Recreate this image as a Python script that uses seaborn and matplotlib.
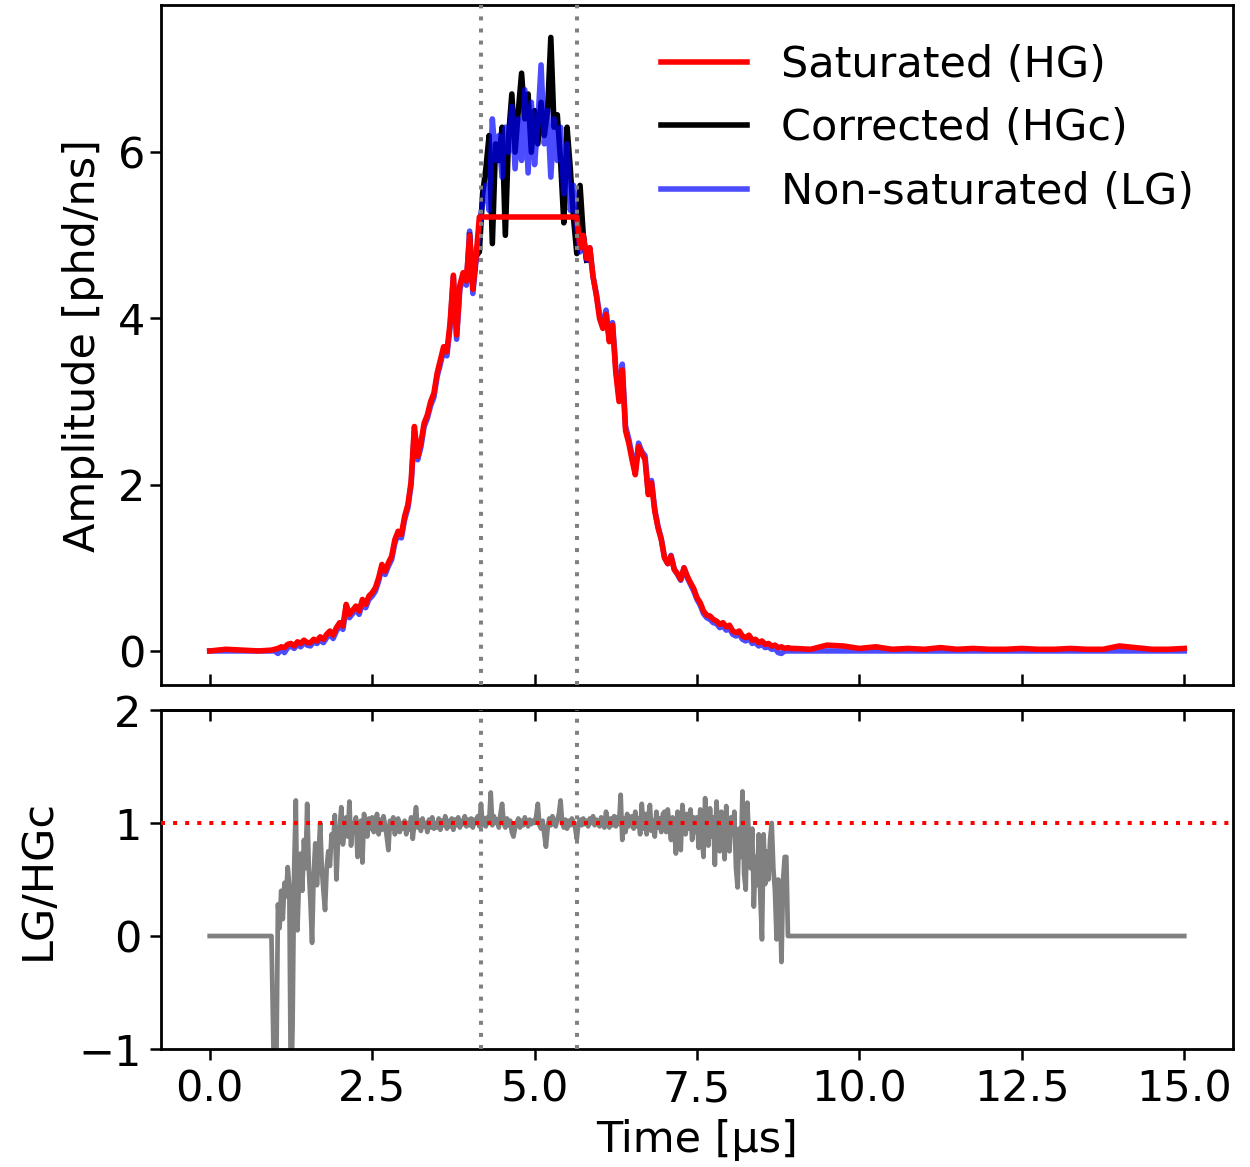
import numpy as np
import matplotlib
matplotlib.use("Agg")
import matplotlib.pyplot as plt
import seaborn as sns

# time axes [us]
time_lead = [0.0, 0.25, 0.5, 0.75, 0.95]
time_pulse = np.round(np.arange(1.0, 8.96, 0.05), 3)
time_tail = np.round(np.arange(9.0, 15.01, 0.25), 3)
time_win = np.round(np.arange(4.0, 5.81, 0.05), 3)
time_ratio = np.round(np.arange(1.0, 8.99, 0.025), 3)

# non-saturated low gain channel (LG)
lg_lead = [0.0, 0.0, 0.0, 0.0, 0.0]
lg_pulse = [
    0.00, -0.03, 0.02, -0.02, 0.04, 0.06, 0.03, 0.08, 0.05, 0.10,
    0.07, 0.06, 0.11, 0.09, 0.13, 0.10, 0.16, 0.20, 0.15, 0.24,
    0.30, 0.26, 0.52, 0.40, 0.45, 0.50, 0.44, 0.58, 0.52, 0.62,
    0.66, 0.72, 0.84, 1.00, 0.92, 1.02, 1.10, 1.30, 1.40, 1.36,
    1.58, 1.72, 2.00, 2.65, 2.30, 2.45, 2.70, 2.80, 2.95, 3.05,
    3.30, 3.45, 3.62, 3.55, 3.90, 4.50, 3.75, 4.35, 4.50, 4.40,
    5.05, 4.30, 4.70, 5.10, 5.40, 5.60, 5.30, 6.40, 5.90, 6.20,
    5.70, 6.30, 6.00, 6.55, 5.80, 6.40, 5.90, 6.75, 5.75, 6.60,
    5.85, 6.35, 7.05, 6.10, 6.50, 5.70, 6.40, 5.90, 6.30, 5.50,
    6.10, 5.30, 5.60, 5.10, 4.80, 5.00, 4.70, 4.85, 4.50, 4.30,
    4.05, 3.90, 4.10, 3.75, 3.95, 3.40, 3.05, 3.45, 2.70, 2.55,
    2.35, 2.15, 2.50, 2.40, 2.35, 1.90, 2.05, 1.70, 1.50, 1.35,
    1.12, 1.05, 1.15, 0.98, 0.92, 0.85, 1.00, 0.88, 0.80, 0.72,
    0.62, 0.55, 0.45, 0.40, 0.38, 0.34, 0.33, 0.28, 0.30, 0.25,
    0.27, 0.20, 0.18, 0.20, 0.14, 0.12, 0.15, 0.09, 0.10, 0.06,
    0.08, 0.04, 0.05, 0.02, 0.03, -0.02, -0.03, 0.00, 0.00, 0.00,
]
lg_tail = [0.0] * 25

# saturated high gain channel (HG)
hg_lead = [0.0, 0.02, 0.01, 0.0, 0.01]
hg_pulse = [
    0.02, 0.03, 0.05, 0.04, 0.08, 0.09, 0.06, 0.11, 0.09, 0.13,
    0.10, 0.10, 0.14, 0.12, 0.17, 0.14, 0.20, 0.24, 0.19, 0.28,
    0.34, 0.30, 0.56, 0.44, 0.49, 0.54, 0.48, 0.62, 0.56, 0.66,
    0.70, 0.76, 0.88, 1.04, 0.96, 1.06, 1.14, 1.34, 1.44, 1.40,
    1.62, 1.76, 2.04, 2.70, 2.34, 2.50, 2.74, 2.84, 3.00, 3.10,
    3.34, 3.50, 3.66, 3.60, 3.95, 4.52, 3.80, 4.40, 4.55, 4.45,
    5.00, 4.35, 4.75, 5.22, 5.22, 5.22, 5.22, 5.22, 5.22, 5.22,
    5.22, 5.22, 5.22, 5.22, 5.22, 5.22, 5.22, 5.22, 5.22, 5.22,
    5.22, 5.22, 5.22, 5.22, 5.22, 5.22, 5.22, 5.22, 5.22, 5.22,
    5.22, 5.22, 5.22, 5.22, 4.85, 5.00, 4.72, 4.85, 4.50, 4.28,
    4.00, 3.88, 4.05, 3.72, 3.92, 3.35, 3.00, 3.38, 2.65, 2.50,
    2.30, 2.12, 2.46, 2.38, 2.30, 1.88, 2.02, 1.68, 1.48, 1.34,
    1.12, 1.05, 1.14, 0.98, 0.93, 0.86, 1.00, 0.90, 0.82, 0.75,
    0.64, 0.58, 0.48, 0.43, 0.42, 0.38, 0.36, 0.32, 0.34, 0.29,
    0.31, 0.24, 0.22, 0.24, 0.18, 0.16, 0.19, 0.13, 0.14, 0.10,
    0.12, 0.08, 0.09, 0.06, 0.07, 0.04, 0.05, 0.03, 0.04, 0.03,
]
hg_tail = [0.03, 0.02, 0.07, 0.06, 0.03, 0.05, 0.02, 0.03, 0.02, 0.04,
           0.02, 0.03, 0.02, 0.02, 0.03, 0.02, 0.02, 0.03, 0.02, 0.02,
           0.06, 0.04, 0.02, 0.02, 0.03]

# corrected high gain (HGc) inside the saturated window
hgc_win = [
    5.00, 4.40, 4.75, 4.80, 5.50, 5.80, 6.20, 4.90, 6.10, 5.90,
    6.30, 5.00, 6.20, 6.70, 6.00, 6.50, 6.95, 6.40, 6.70, 6.00,
    6.50, 6.10, 6.60, 6.20, 6.50, 7.38, 6.30, 6.45, 5.90, 5.15,
    6.30, 5.80, 5.20, 4.78, 5.60, 5.00, 4.70,
]

# ratio LG / HGc
ratio_lead = [0.0] * 5
ratio_pulse = [
    -1.60, -1.20, 0.28, 0.07, 0.40, 0.15, 0.47, 0.35, 0.61, 0.45,
    -1.50, -0.80, 0.60, 1.20, 0.05, 0.50, 0.73, 0.40, 0.85, 0.60,
    1.17, 0.60, 0.30, -0.06, 0.55, 0.82, 0.45, 0.70, 1.00, 0.60,
    0.40, 0.23, 0.60, 0.75, 0.62, 0.90, 0.80, 1.07, 0.50, 0.85,
    0.95, 1.14, 0.81, 0.95, 1.05, 0.88, 1.19, 0.80, 1.00, 0.92,
    1.05, 0.70, 0.90, 1.02, 0.65, 1.08, 0.98, 0.88, 1.04, 0.95,
    1.05, 0.92, 1.00, 1.08, 0.90, 1.03, 0.94, 1.06, 0.98, 0.88,
    0.76, 1.02, 0.95, 1.05, 0.90, 0.98, 1.04, 0.92, 1.00, 0.95,
    1.02, 0.90, 1.00, 0.94, 1.05, 0.86, 1.00, 1.14, 0.96, 1.02,
    0.93, 1.04, 0.97, 1.00, 0.92, 1.03, 0.96, 1.05, 0.95, 1.00,
    0.96, 1.04, 0.94, 1.02, 0.98, 1.06, 0.95, 1.02, 0.97, 1.04,
    0.94, 1.03, 0.98, 1.05, 0.96, 1.02, 0.99, 1.06, 0.97, 1.03,
    0.98, 1.04, 0.96, 1.03, 1.00, 1.06, 0.97, 1.17, 0.98, 1.04,
    0.97, 1.05, 1.00, 1.27, 0.98, 1.06, 1.00, 1.03, 0.96, 1.08,
    1.17, 1.00, 0.96, 1.04, 0.98, 1.02, 0.92, 0.88, 0.96, 1.00,
    1.04, 0.96, 1.02, 0.98, 1.05, 1.00, 0.97, 1.03, 0.99, 1.02,
    1.00, 1.06, 1.17, 0.98, 0.95, 1.02, 0.90, 0.79, 0.95, 1.04,
    0.98, 1.06, 1.00, 0.97, 1.03, 1.08, 1.20, 1.00, 0.96, 1.03,
    0.95, 1.02, 0.98, 1.04, 1.00, 0.96, 0.86, 1.00, 1.03, 0.98,
    1.04, 0.99, 1.02, 0.97, 1.04, 1.00, 1.06, 0.98, 1.03, 1.01,
    0.97, 1.05, 1.00, 0.96, 1.10, 1.02, 0.96, 1.04, 0.98, 1.06,
    0.97, 1.05, 0.99, 1.25, 0.85, 1.04, 0.92, 1.08, 0.97, 1.02,
    1.06, 0.95, 1.10, 0.97, 1.04, 0.90, 1.17, 0.95, 1.08, 0.90,
    1.05, 1.16, 0.93, 1.02, 0.88, 1.10, 0.96, 1.04, 0.92, 1.08,
    1.10, 0.92, 1.12, 0.98, 0.85, 1.05, 0.96, 0.73, 1.10, 0.95,
    0.76, 1.16, 1.00, 0.90, 1.08, 0.95, 1.12, 0.85, 1.05, 0.92,
    1.05, 0.78, 1.12, 0.90, 0.70, 1.22, 0.95, 0.80, 1.13, 0.88,
    1.05, 0.63, 1.19, 0.90, 0.75, 1.10, 0.95, 0.68, 1.15, 0.85,
    0.75, 1.05, 0.90, 1.10, 0.60, 0.43, 0.95, 0.70, 1.28, 0.55,
    0.41, 1.18, 0.85, 0.60, 0.95, 0.26, 0.70, 0.45, 0.90, 0.35,
    -0.03, 0.90, 0.46, 0.75, 0.50, 0.85, 1.00, 0.60, 0.40, -0.03,
    0.50, 0.35, -0.23, 0.50, 0.70, 0.70, 0.00, 0.00, 0.00, 0.00,
]
ratio_tail = [0.0] * 25

sat_window = [4.18, 5.66]

assert len(lg_pulse) == len(time_pulse) == len(hg_pulse)
assert len(hgc_win) == len(time_win)
assert len(ratio_pulse) == len(time_ratio)

time = np.concatenate([time_lead, time_pulse, time_tail])
lg = np.concatenate([lg_lead, lg_pulse, lg_tail])
hg = np.concatenate([hg_lead, hg_pulse, hg_tail])
time_r = np.concatenate([time_lead, time_ratio, time_tail])
ratio = np.concatenate([ratio_lead, ratio_pulse, ratio_tail])

fs = 31
lw = 4.0
plt.rcParams['font.family'] = ['DejaVu Sans']

fig = plt.figure(figsize=(12.5, 11.67), dpi=100)
ax1 = fig.add_axes([0.1288, 0.413, 0.8576, 0.5827])
ax2 = fig.add_axes([0.1288, 0.1011, 0.8576, 0.2905], sharex=ax1)

sns.lineplot(x=time_win, y=hgc_win, ax=ax1, color='black', lw=lw,
             label='Corrected (HGc)', zorder=1)
sns.lineplot(x=time, y=lg, ax=ax1, color='blue', alpha=0.7, lw=lw,
             label='Non-saturated (LG)', zorder=2)
sns.lineplot(x=time, y=hg, ax=ax1, color='red', lw=lw,
             label='Saturated (HG)', zorder=3)

sns.lineplot(x=time_r, y=ratio, ax=ax2, color='gray', lw=3.4, zorder=2)
ax2.axhline(1, color='red', ls=(0, (1, 2)), lw=2.9, zorder=3)

for x in sat_window:
    ax1.axvline(x, color='gray', ls=(0, (1, 2)), lw=2.9, zorder=5)
    ax2.axvline(x, color='gray', ls=(0, (1, 2)), lw=2.9, zorder=5)

h, l = ax1.get_legend_handles_labels()
order = [2, 0, 1]
ax1.legend([h[i] for i in order], [l[i] for i in order], loc='upper right',
           frameon=False, fontsize=fs, labelspacing=0.5, handlelength=2.0)

ax1.set_xlim(-0.75, 15.75)
ax1.set_ylim(-0.41, 7.77)
ax2.set_ylim(-1, 2)
ax1.set_yticks([0, 2, 4, 6])
ax2.set_yticks([-1, 0, 1, 2])
ax2.set_xticks(np.arange(0, 15.1, 2.5))

ax1.set_xlabel('')
ax1.set_ylabel('Amplitude [phd/ns]', fontsize=fs, labelpad=10)
ax2.set_ylabel('LG/HGc', fontsize=fs, labelpad=14)
ax2.set_xlabel('Time [µs]', fontsize=fs, labelpad=6)

ax1.tick_params(axis='x', direction='in', labelbottom=False, length=8, width=1.8)
ax1.tick_params(axis='y', direction='out', labelsize=fs, length=8, width=1.8)
ax2.tick_params(axis='both', direction='out', labelsize=fs, length=8, width=1.8, pad=6)
top = ax2.secondary_xaxis('top')
top.set_xticks(np.arange(0, 15.1, 2.5))
top.tick_params(direction='in', labeltop=False, length=8, width=1.8)

for ax in (ax1, ax2):
    for s in ax.spines.values():
        s.set_linewidth(2.0)
for s in top.spines.values():
    s.set_linewidth(2.0)

fig.savefig('out.png', dpi=100)
